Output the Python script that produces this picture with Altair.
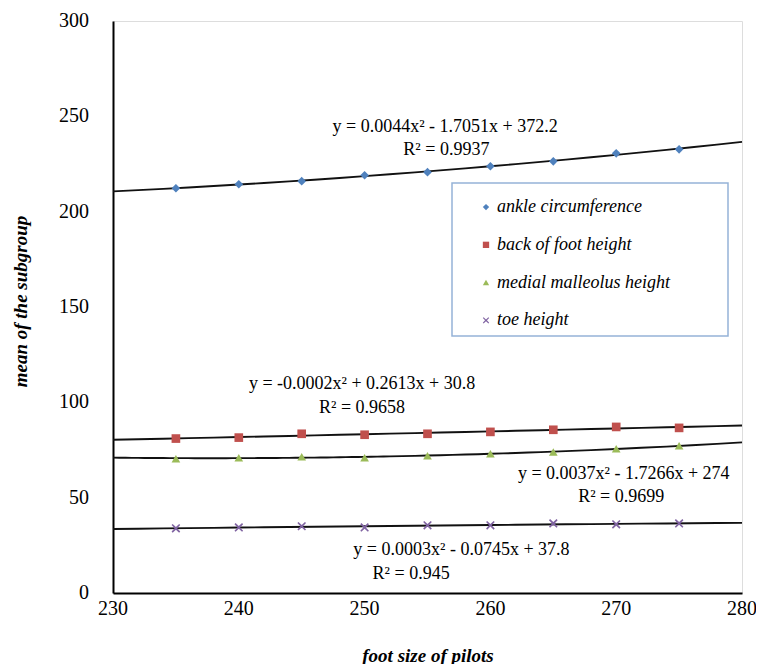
import altair as alt
import pandas as pd

# ---- data ----
foot_size = [235, 240, 245, 250, 255, 260, 265, 270, 275]
series_names = ["ankle circumference", "back of foot height",
                "medial malleolus height", "toe height"]
ankle = [212.3, 214.4, 216.0, 219.1, 220.7, 223.8, 226.4, 230.6, 232.7]
back_foot = [81.0, 81.5, 83.5, 83.0, 83.5, 84.5, 85.6, 87.1, 86.6]
medial = [70.4, 71.0, 71.5, 71.0, 72.0, 73.0, 74.0, 75.6, 77.2]
toe = [33.9, 34.4, 35.0, 34.4, 35.5, 35.5, 36.5, 36.0, 36.5]

x_ticks = [230, 240, 250, 260, 270, 280]
y_ticks = [0, 50, 100, 150, 200, 250, 300]

ann_text = [
    "y = 0.0044x² - 1.7051x + 372.2", "R² = 0.9937",
    "y = -0.0002x² + 0.2613x + 30.8", "R² = 0.9658",
    "y = 0.0037x² - 1.7266x + 274", "R² = 0.9699",
    "y = 0.0003x² - 0.0745x + 37.8", "R² = 0.945",
]
ann_x = [256.4, 256.5, 249.8, 249.8, 270.6, 270.4, 257.7, 253.7]
ann_y = [244.2, 232.2, 109.6, 97.0, 62.6, 50.1, 22.4, 9.9]

# legend entry anchor positions (data coordinates)
leg_x = [259.65, 259.65, 259.65, 259.65]
leg_y = [202.4, 182.6, 162.8, 143.0]

colors = ["#4F81BD", "#C0504D", "#9BBB59", "#8064A2"]
x_shape = ("M-1,-0.75L-0.75,-1L0,-0.3L0.75,-1L1,-0.75L0.3,0L1,0.75"
           "L0.75,1L0,0.3L-0.75,1L-1,0.75L-0.3,0Z")
shapes = ["diamond", "square", "triangle-up", x_shape]

rows = []
for name, vals in zip(series_names, [ankle, back_foot, medial, toe]):
    for xv, yv in zip(foot_size, vals):
        rows.append({"x": xv, "y": yv, "series": name})
df = pd.DataFrame(rows)
ann = pd.DataFrame({"x": ann_x, "y": ann_y, "t": ann_text})
leg = pd.DataFrame({"x": leg_x, "y": leg_y, "series": series_names})
xt = pd.DataFrame({"x": x_ticks, "y": [0] * len(x_ticks), "t": [str(v) for v in x_ticks]})
yt = pd.DataFrame({"x": [230] * len(y_ticks), "y": y_ticks, "t": [str(v) for v in y_ticks]})

FONT = "Liberation Serif"

xscale = alt.Scale(domain=[230, 280], nice=False, zero=False)
yscale = alt.Scale(domain=[0, 300], nice=False)
cscale = alt.Scale(domain=series_names, range=colors)
sscale = alt.Scale(domain=series_names, range=shapes)

xaxis = alt.Axis(values=x_ticks, title="foot size of pilots", labels=False,
                 titleY=62, titleBaseline="middle")
yaxis = alt.Axis(values=y_ticks, title="mean of the subgroup", labels=False,
                 titleX=-93, titleY=280, titleBaseline="middle")

X = alt.X("x:Q", scale=xscale, axis=xaxis)
Y = alt.Y("y:Q", scale=yscale, axis=yaxis)

base = alt.Chart(df)

# legend frame
frame = alt.Chart(pd.DataFrame({"k": [0]})).mark_rect(
    fill="#ffffff", stroke="#95B3D7", strokeWidth=1.5
).encode(x=alt.value(339), x2=alt.value(615), y=alt.value(162), y2=alt.value(315))

lines = base.transform_regression(
    "x", "y", groupby=["series"], method="poly", order=2, extent=[230, 280]
).mark_line(color="#111111", strokeWidth=1.9).encode(
    x=X, y=Y, detail="series:N",
)

points = base.mark_point(filled=True, size=75, opacity=1).encode(
    x=X, y=Y,
    color=alt.Color("series:N", scale=cscale, legend=None),
    shape=alt.Shape("series:N", scale=sscale, legend=None),
)

leg_pts = alt.Chart(leg).mark_point(filled=True, size=40, opacity=1).encode(
    x=X, y=Y,
    color=alt.Color("series:N", scale=cscale, legend=None),
    shape=alt.Shape("series:N", scale=sscale, legend=None),
)
leg_txt = alt.Chart(leg).mark_text(font=FONT, fontSize=18, fontStyle="italic",
                                   color="#000", align="left", baseline="middle",
                                   dx=11).encode(x=X, y=Y, text="series:N")

texts = alt.Chart(ann).mark_text(font=FONT, fontSize=18, color="#000",
                                 align="center", baseline="middle").encode(
    x=X, y=Y, text="t:N",
)

xlabels = alt.Chart(xt).mark_text(font=FONT, fontSize=20, color="#000",
                                  align="center", baseline="middle", dy=16).encode(
    x=X, y=Y, text="t:N")
ylabels = alt.Chart(yt).mark_text(font=FONT, fontSize=20, color="#000",
                                  align="right", baseline="middle", dx=-24).encode(
    x=X, y=Y, text="t:N")

chart = alt.layer(frame, lines, points, leg_pts, leg_txt, texts, xlabels, ylabels).properties(
    width=629, height=572,
    autosize=alt.AutoSizeParams(type="none"),
    padding={"left": 105, "top": 13, "right": 14, "bottom": 71},
).configure_view(stroke=None).configure(
    background="#ffffff", font=FONT,
).configure_axis(
    grid=False, ticks=False, domainColor="#000", domainWidth=2,
    titleFont=FONT, titleFontSize=19, titleFontWeight="bold",
    titleFontStyle="italic", titleColor="#000",
)

chart.save("out.html", embed_options={"renderer": "svg", "actions": False})
